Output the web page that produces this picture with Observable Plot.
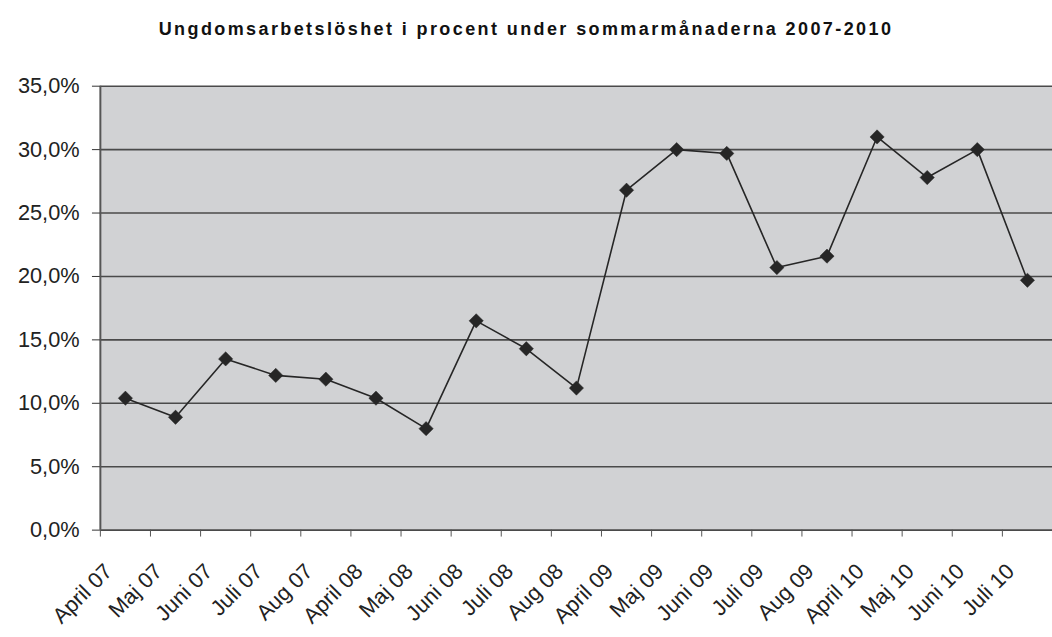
<!DOCTYPE html>
<html>
<head>
<meta charset="utf-8">
<script src="https://cdn.jsdelivr.net/npm/d3@7"></script>
<script src="https://cdn.jsdelivr.net/npm/@observablehq/plot@0.6"></script>
<style>
  html, body { margin: 0; padding: 0; background: #fff; overflow: hidden; width: 1052px; height: 637px; }
  #title { width: 1052px; height: 60px; box-sizing: border-box; padding-top: 19px; text-align: center;
    font-family: "Liberation Sans", Arial, sans-serif; font-weight: bold; font-size: 18px; letter-spacing: 2.4px; color: #111; line-height: 20px; }
  #chart svg { display: block; }
</style>
</head>
<body>
<div id="title">Ungdomsarbetslöshet i procent under sommarmånaderna 2007-2010</div>
<div id="chart"></div>
<script>
const months = ["April 07","Maj 07","Juni 07","Juli 07","Aug 07","April 08","Maj 08","Juni 08","Juli 08","Aug 08",
  "April 09","Maj 09","Juni 09","Juli 09","Aug 09","April 10","Maj 10","Juni 10","Juli 10"];
const values = [10.4, 8.9, 13.5, 12.2, 11.9, 10.4, 8.0, 16.5, 14.3, 11.2,
  26.8, 30.0, 29.7, 20.7, 21.6, 31.0, 27.8, 30.0, 19.7];
const yTicks = [0, 5, 10, 15, 20, 25, 30, 35];

const data = months.map((m, i) => ({i, month: m, value: values[i]}));
const bounds = d3.range(months.length + 1).map(i => i - 0.5);
const fmt = d => d.toFixed(1).replace(".", ",") + "%";

const chart = Plot.plot({
  width: 1064,
  height: 577,
  marginLeft: 101,
  marginRight: 0,
  marginTop: 26,
  marginBottom: 102,
  style: {fontFamily: "'Liberation Sans', Arial, sans-serif", color: "#222", background: "transparent"},
  x: {type: "linear", domain: [-0.5, months.length - 0.5], axis: null, label: null},
  y: {domain: [0, 35], axis: null, label: null},
  marks: [
    Plot.frame({fill: "#d1d2d4", stroke: null}),
    Plot.ruleY(yTicks, {stroke: "#4a4a4a", strokeWidth: 1.6}),
    Plot.ruleX([-0.5], {stroke: "#555", strokeWidth: 2}),
    Plot.axisY(yTicks, {tickSize: 8, tickPadding: 13, tickFormat: fmt, fontSize: 22, stroke: "#333", label: null,
      style: {letterSpacing: "1.2px"}}),
    Plot.axisX(bounds, {tickSize: 7, tickFormat: () => "", stroke: "#555", label: null}),
    Plot.text(data, {x: "i", text: "month", frameAnchor: "bottom", rotate: -45, textAnchor: "end",
      lineAnchor: "bottom", dx: -12, dy: 43, fontSize: 22, fill: "#222", style: {letterSpacing: "0.9px"}}),
    Plot.line(data, {x: "i", y: "value", stroke: "#262626", strokeWidth: 1.6}),
    Plot.dot(data, {x: "i", y: "value", symbol: "diamond2", r: 6.5, fill: "#262626", stroke: "#262626", strokeWidth: 0.5})
  ]
});
document.getElementById("chart").appendChild(chart);
</script>
</body>
</html>
